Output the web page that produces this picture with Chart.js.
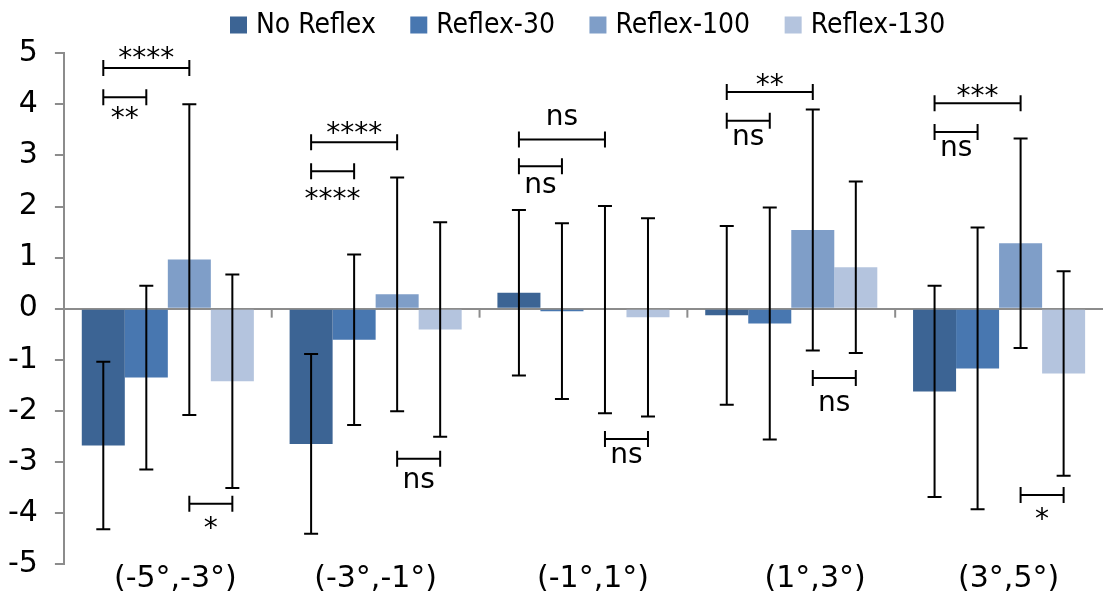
<!DOCTYPE html>
<html><head><meta charset="utf-8">
<script src="https://cdn.jsdelivr.net/npm/chart.js@4/dist/chart.umd.min.js"></script>
<style>html,body{margin:0;padding:0;background:#fff;overflow:hidden}</style>
</head><body>
<canvas id="c" width="1103" height="599"></canvas>
<script>
// ---- data ----
// (leading spaces reproduce the reference's slightly right-shifted category labels)
const categories = ['\u2002(-5°,-3°)', '(-3°,-1°)', '  (-1°,1°)', '     (1°,3°)', '  (3°,5°)'];
const seriesNames = ['No Reflex', 'Reflex-30', 'Reflex-100', 'Reflex-130'];
const noReflex     = [-2.68, -2.65,  0.31, -0.13, -1.62];
const noReflexErr  = [ 1.64,  1.76,  1.62,  1.75,  2.07];
const reflex30     = [-1.35, -0.61, -0.05, -0.29, -1.17];
const reflex30Err  = [ 1.80,  1.67,  1.72,  2.27,  2.76];
const reflex100    = [ 0.96,  0.28, -0.02,  1.54,  1.28];
const reflex100Err = [ 3.04,  2.29,  2.03,  2.36,  2.05];
const reflex130    = [-1.42, -0.41, -0.17,  0.81, -1.27];
const reflex130Err = [ 2.09,  2.10,  1.94,  1.68,  2.00];
const yMin = -5, yMax = 5, yStep = 1;

// significance brackets (category, from series, to series, bracket value, label, label baseline value)
const bracketCat    = [0, 0, 0, 1, 1, 1, 2, 2, 2, 3, 3, 3, 4, 4, 4];
const bracketFrom   = [0, 0, 2, 0, 0, 2, 0, 0, 2, 0, 0, 2, 0, 0, 2];
const bracketTo     = [2, 1, 3, 2, 1, 3, 2, 1, 3, 2, 1, 3, 2, 1, 3];
const bracketValue  = [4.71, 4.14, -3.82, 3.26, 2.69, -2.94, 3.31, 2.79, -2.55, 4.24, 3.68, -1.36, 4.02, 3.46, -3.65];
const bracketLabel  = ['****', '**', '*', '****', '****', 'ns', 'ns', 'ns', 'ns', '**', 'ns', 'ns', '***', 'ns', '*'];
const bracketLabelV = [4.73, 3.56, -4.48, 3.27, 1.97, -3.51, 3.60, 2.27, -3.02, 4.21, 3.20, -2.00, 3.98, 2.99, -4.29];

const colors = ['#3C6494', '#4877B0', '#7F9EC8', '#B4C4DE'];
const seriesValues = [noReflex, reflex30, reflex100, reflex130];
const seriesErrors = [noReflexErr, reflex30Err, reflex100Err, reflex130Err];

Chart.defaults.font.family = "'DejaVu Sans', sans-serif";
Chart.defaults.color = '#000';

const AXIS_GRAY = '#8c8c8c';

const errorBarPlugin = {
  id: 'errorBars',
  afterDatasetsDraw(chart) {
    const ctx = chart.ctx, y = chart.scales.y;
    ctx.save();
    ctx.strokeStyle = '#000';
    ctx.lineWidth = 2;
    chart.data.datasets.forEach((ds, i) => {
      const meta = chart.getDatasetMeta(i);
      meta.data.forEach((bar, j) => {
        const v = ds.data[j], e = seriesErrors[i][j];
        const yt = y.getPixelForValue(v + e), yb = y.getPixelForValue(v - e);
        ctx.beginPath();
        ctx.moveTo(bar.x, yt); ctx.lineTo(bar.x, yb);
        ctx.moveTo(bar.x - 7, yt); ctx.lineTo(bar.x + 7, yt);
        ctx.moveTo(bar.x - 7, yb); ctx.lineTo(bar.x + 7, yb);
        ctx.stroke();
      });
    });
    ctx.restore();
  }
};

const bracketPlugin = {
  id: 'brackets',
  afterDatasetsDraw(chart) {
    const ctx = chart.ctx, y = chart.scales.y;
    ctx.save();
    ctx.strokeStyle = '#000';
    ctx.fillStyle = '#000';
    ctx.lineWidth = 2;
    ctx.font = "28px 'DejaVu Sans', sans-serif";
    ctx.textAlign = 'center';
    ctx.textBaseline = 'alphabetic';
    bracketCat.forEach((c, k) => {
      const x1 = chart.getDatasetMeta(bracketFrom[k]).data[c].x;
      const x2 = chart.getDatasetMeta(bracketTo[k]).data[c].x;
      const yy = y.getPixelForValue(bracketValue[k]);
      ctx.beginPath();
      ctx.moveTo(x1, yy); ctx.lineTo(x2, yy);
      ctx.moveTo(x1, yy - 8); ctx.lineTo(x1, yy + 8);
      ctx.moveTo(x2, yy - 8); ctx.lineTo(x2, yy + 8);
      ctx.stroke();
      ctx.fillText(bracketLabel[k], (x1 + x2) / 2, y.getPixelForValue(bracketLabelV[k]));
    });
    ctx.restore();
  }
};

const categoryTickPlugin = {
  id: 'catTicks',
  afterDatasetsDraw(chart) {
    const ctx = chart.ctx, x = chart.scales.x, y = chart.scales.y;
    const y0 = y.getPixelForValue(0);
    ctx.save();
    ctx.strokeStyle = AXIS_GRAY;
    ctx.lineWidth = 2;
    for (let i = 0; i < categories.length - 1; i++) {
      const xb = (x.getPixelForValue(i) + x.getPixelForValue(i + 1)) / 2;
      ctx.beginPath(); ctx.moveTo(xb, y0); ctx.lineTo(xb, y0 + 9); ctx.stroke();
    }
    ctx.restore();
  }
};

const legendPlugin = {
  id: 'customLegend',
  afterDraw(chart) {
    const ctx = chart.ctx;
    ctx.save();
    ctx.font = "28px 'DejaVu Sans Condensed', 'DejaVu Sans', sans-serif";
    ctx.textBaseline = 'alphabetic';
    ctx.textAlign = 'left';
    let x = 230;
    chart.data.datasets.forEach(ds => {
      ctx.fillStyle = ds.backgroundColor;
      ctx.fillRect(x, 16.5, 17, 17);
      ctx.fillStyle = '#000';
      ctx.fillText(ds.label, x + 26, 33.3);
      x += 26 + ctx.measureText(ds.label).width + 34.5;
    });
    ctx.restore();
  }
};

new Chart(document.getElementById('c'), {
  type: 'bar',
  data: {
    labels: categories,
    datasets: seriesNames.map((n, i) => ({
      label: n,
      data: seriesValues[i],
      backgroundColor: colors[i],
      borderWidth: 0,
      barPercentage: 1.0,
      categoryPercentage: 0.828
    }))
  },
  options: {
    responsive: false,
    animation: false,
    devicePixelRatio: 1,
    layout: { padding: { top: 53.3, left: -9, right: 0, bottom: 2.3 } },
    plugins: { legend: { display: false }, tooltip: { enabled: false } },
    scales: {
      x: {
        grid: { display: false, drawTicks: false },
        border: { display: false },
        ticks: { font: { size: 30, lineHeight: 1 }, padding: 0, maxRotation: 0, autoSkip: false }
      },
      y: {
        min: yMin, max: yMax,
        ticks: { stepSize: yStep, font: { size: 30 }, padding: 17 },
        grid: {
          drawOnChartArea: true,
          drawTicks: true,
          tickLength: 9,
          lineWidth: 2,
          color: c => (c.tick && c.tick.value === 0) ? AXIS_GRAY : 'rgba(0,0,0,0)',
          tickColor: AXIS_GRAY,
          tickWidth: 2
        },
        border: { display: true, color: AXIS_GRAY, width: 2 }
      }
    }
  },
  plugins: [categoryTickPlugin, errorBarPlugin, bracketPlugin, legendPlugin]
});
</script>
</body></html>
